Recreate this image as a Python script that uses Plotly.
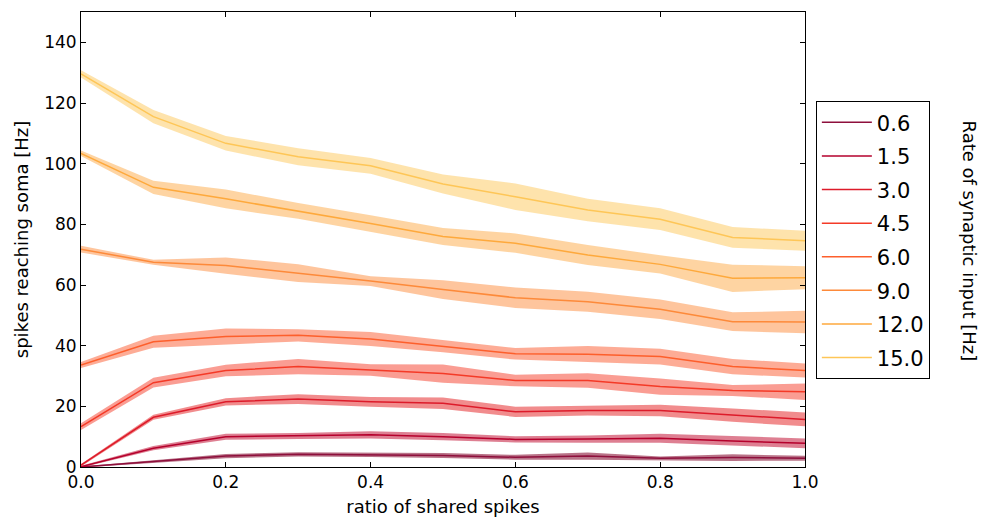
import plotly.graph_objects as go

# shared-spike ratio on the x axis
ratio = [0.0, 0.1, 0.2, 0.3, 0.4, 0.5, 0.6, 0.7, 0.8, 0.9, 1.0]

# synaptic input rates (legend labels)
rates = ["0.6", "1.5", "3.0", "4.5", "6.0", "9.0", "12.0", "15.0"]

# mean spikes reaching soma [Hz] for each input rate
mean_06 = [0.0, 1.8, 3.6, 4.2, 4.0, 3.8, 3.2, 3.6, 2.9, 3.1, 2.9]
mean_15 = [0.1, 6.2, 10.0, 10.2, 10.6, 10.0, 9.1, 9.2, 9.5, 8.6, 7.8]
mean_30 = [0.6, 16.4, 21.5, 22.4, 21.5, 21.0, 18.2, 18.6, 18.6, 17.1, 15.7]
mean_45 = [13.3, 27.8, 31.8, 33.1, 32.0, 30.8, 28.5, 28.5, 26.5, 25.2, 24.8]
mean_60 = [33.6, 41.3, 43.0, 43.4, 42.2, 39.8, 37.3, 37.2, 36.4, 33.1, 31.8]
mean_90 = [71.8, 67.5, 66.4, 63.9, 61.3, 58.5, 55.8, 54.5, 52.0, 47.9, 47.8]
mean_120 = [103.4, 92.2, 88.4, 84.4, 80.3, 76.0, 73.8, 69.9, 66.8, 62.2, 62.4]
mean_150 = [129.6, 115.5, 106.7, 102.3, 99.3, 93.3, 89.1, 84.7, 81.7, 75.7, 74.6]

# half-width of the shaded spread around each mean
spread_06 = [0.2, 0.5, 0.7, 0.7, 0.7, 0.8, 0.8, 1.2, 0.6, 1.1, 0.8]
spread_15 = [0.3, 0.7, 1.0, 1.0, 1.2, 1.2, 1.0, 1.2, 1.5, 1.5, 1.6]
spread_30 = [0.4, 0.8, 1.2, 1.6, 1.6, 1.9, 1.7, 1.6, 1.9, 2.2, 2.3]
spread_45 = [1.1, 1.6, 1.9, 2.5, 1.9, 3.0, 1.9, 2.4, 2.7, 1.8, 2.7]
spread_60 = [1.0, 2.0, 2.7, 2.0, 2.3, 2.0, 1.9, 2.7, 2.6, 2.5, 2.3]
spread_90 = [1.1, 0.8, 2.7, 2.9, 1.6, 3.1, 3.4, 3.3, 3.2, 3.1, 3.7]
spread_120 = [0.9, 2.2, 3.1, 2.6, 2.7, 2.8, 3.2, 3.3, 3.0, 4.5, 3.8]
spread_150 = [1.2, 2.2, 2.4, 2.8, 2.6, 3.1, 4.4, 3.7, 3.6, 3.4, 3.3]

means = [mean_06, mean_15, mean_30, mean_45, mean_60, mean_90, mean_120, mean_150]
spreads = [spread_06, spread_15, spread_30, spread_45, spread_60, spread_90, spread_120, spread_150]

line_colors = ["#8e0f3c", "#b5002c", "#dd1b2a", "#f43a27", "#fd5f2c",
               "#fd8a3a", "#fea93c", "#fec657"]
fill_colors = ["rgba(128,0,38,0.55)", "rgba(189,0,38,0.5)", "rgba(227,26,28,0.5)",
               "rgba(246,60,40,0.5)", "rgba(252,90,45,0.5)", "rgba(253,140,60,0.5)",
               "rgba(254,170,70,0.5)", "rgba(254,200,90,0.5)"]

fig = go.Figure()

for label, m, s, lc, fc in zip(rates, means, spreads, line_colors, fill_colors):
    upper = [a + b for a, b in zip(m, s)]
    lower = [a - b for a, b in zip(m, s)]
    fig.add_trace(go.Scatter(
        x=ratio + ratio[::-1], y=upper + lower[::-1],
        fill="toself", fillcolor=fc, line=dict(color="rgba(0,0,0,0)", width=0),
        hoverinfo="skip", showlegend=False, mode="lines",
    ))
    fig.add_trace(go.Scatter(
        x=ratio, y=m, mode="lines", name=label,
        line=dict(color=lc, width=1.5), legendgroup=label,
    ))

axis_common = dict(
    showline=True, linecolor="black", linewidth=1, mirror="allticks",
    ticks="inside", ticklen=5, tickcolor="black", tickwidth=1,
    showgrid=False, zeroline=False, automargin=False,
    tickfont=dict(family="DejaVu Sans", size=17, color="black"),
)

fig.update_xaxes(
    range=[0, 1], tickvals=[0, 0.2, 0.4, 0.6, 0.8, 1.0],
    ticktext=["0.0", "0.2", "0.4", "0.6", "0.8", "1.0"],
    title=dict(text="ratio of shared spikes", standoff=8,
               font=dict(family="DejaVu Sans", size=18, color="black")),
    **axis_common,
)
fig.update_yaxes(
    range=[0, 150], tickvals=[0, 20, 40, 60, 80, 100, 120, 140],
    title=dict(text="spikes reaching soma [Hz]", standoff=10,
               font=dict(family="DejaVu Sans", size=18, color="black")),
    **axis_common,
)

fig.add_annotation(
    text="Rate of synaptic input [Hz]", textangle=90,
    xref="paper", yref="paper", x=1.227, y=0.497,
    xanchor="center", yanchor="middle", showarrow=False,
    font=dict(family="DejaVu Sans", size=18, color="black"),
)

fig.update_layout(
    width=981, height=520,
    margin=dict(l=81, r=176, t=12, b=53),
    plot_bgcolor="white", paper_bgcolor="white",
    legend=dict(
        x=1.015, y=0.804, xanchor="left", yanchor="top",
        bordercolor="black", borderwidth=1, bgcolor="white",
        font=dict(family="DejaVu Sans", size=21, color="black"),
        tracegroupgap=3.3, itemwidth=50,
    ),
)

fig.write_html("out.html")
